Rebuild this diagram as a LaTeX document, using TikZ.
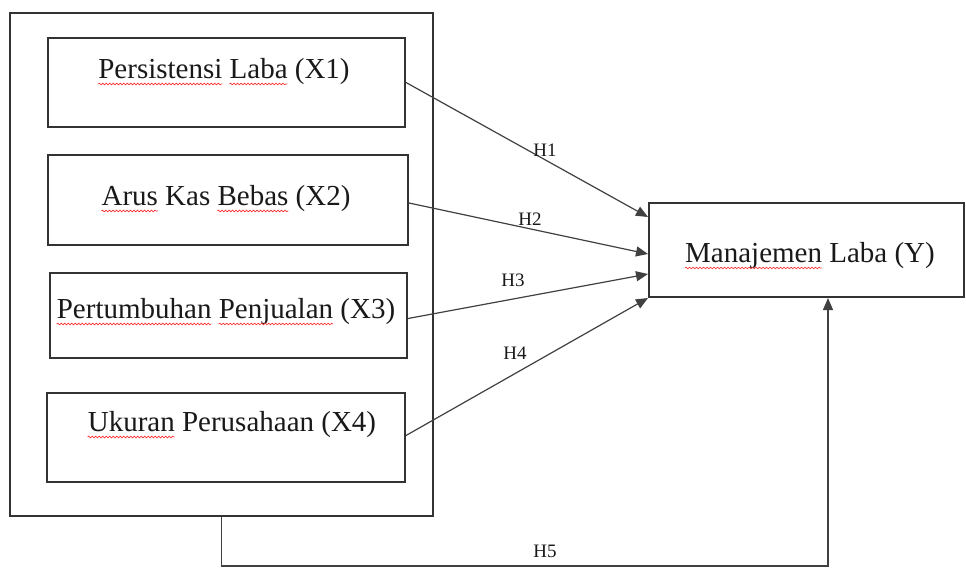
\documentclass[tikz,border=0pt]{standalone}
\usepackage{fontspec}
\setmainfont{Liberation Serif}
\usetikzlibrary{arrows.meta,calc,decorations.pathmorphing}
\newcommand\lblfont{\fontsize{29}{33}\selectfont}
% #1 node, #2 start offset (pt), #3 word width (pt)
\newcommand\wavu[3]{\draw[wavy] ([xshift=#2pt,yshift=-5pt]#1.base west) -- ([xshift=#2pt+#3pt,yshift=-5pt]#1.base west);}
\tikzset{
  boxx/.style={draw=black!80, line width=2pt, inner sep=0pt},
  lbl/.style={font=\lblfont, text=black!90, inner sep=0pt},
  hl/.style={font=\fontsize{19}{22}\selectfont, text=black!90, inner sep=0pt},
  arr/.style={draw=black!75, line width=1.2pt, -{Triangle[length=12pt,width=10pt]}},
  wavy/.style={draw=red!80!white, line width=0.7pt, decorate, decoration={snake, amplitude=0.8pt, segment length=3.5pt}}
}
\begin{document}
\begin{tikzpicture}[x=1pt,y=-1pt]
\useasboundingbox (0,0) rectangle (966,568);
% outer frame
\node[boxx, minimum width=423pt, minimum height=503pt] (outer) at (221.5,264) {};
% inner boxes
\node[boxx, minimum width=357pt, minimum height=89pt] (x1) at (226.5,82.5) {};
\node[boxx, minimum width=360pt, minimum height=90pt] (x2) at (228,200) {};
\node[boxx, minimum width=357pt, minimum height=85pt] (x3) at (228.5,315.5) {};
\node[boxx, minimum width=358pt, minimum height=89pt] (x4) at (226,437.5) {};
\node[boxx, minimum width=315pt, minimum height=94pt] (y) at (806.5,250) {};
% texts
\node[lbl] (t1) at (224,72) {Persistensi Laba (X1)};
\node[lbl] (t2) at (226,199) {Arus Kas Bebas (X2)};
\node[lbl] (t3) at (226,312) {Pertumbuhan Penjualan (X3)};
\node[lbl] (t4) at (232,425) {Ukuran Perusahaan (X4)};
\node[lbl] (ty) at (810,256) {Manajemen Laba (Y)};
% spell-check underlines
\wavu{t1}{0}{124.1}
\wavu{t1}{131.3}{58.0}
\wavu{t2}{0}{56.4}
\wavu{t2}{116.0}{70.9}
\wavu{t3}{0}{154.7}
\wavu{t3}{161.9}{114.4}
\wavu{t4}{0}{87.0}
\wavu{ty}{0}{136.9}
% arrow end points on Y
\coordinate (e1) at ([yshift=-15pt]y.north west);
\coordinate (e2) at ([yshift=-52pt]y.north west);
\coordinate (e3) at ([yshift=-72pt]y.north west);
\coordinate (e4) at (y.south west);
\coordinate (c5) at (828,566);
\draw[arr] (x1.east) -- (e1);
\draw[arr] ([yshift=-3pt]x2.east) -- (e2);
\draw[arr] ([yshift=-3pt]x3.east) -- (e3);
\draw[arr] ([yshift=2pt]x4.east) -- (e4);
\draw[arr] (outer.south) |- (c5) -- (c5 |- y.south);
% hypothesis labels
\node[hl] (h1) at (545,150) {H1};
\node[hl] (h2) at (530,219) {H2};
\node[hl] (h3) at (513,280) {H3};
\node[hl] (h4) at (515,353) {H4};
\node[hl] (h5) at (545,551) {H5};
\end{tikzpicture}
\end{document}
